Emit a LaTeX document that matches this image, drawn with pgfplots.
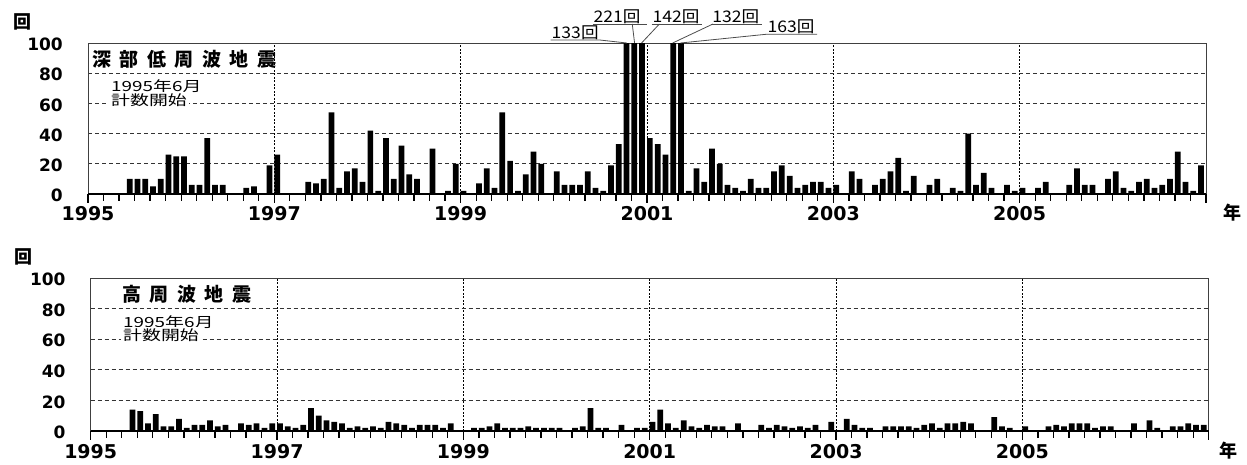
\documentclass[border=0pt]{standalone}
\usepackage{fontspec}
\usepackage{graphicx}
\usepackage{pgfplots}
\usepackage{pgfplotstable}
\pgfplotsset{compat=1.18}
\usetikzlibrary{calc}

\newfontfamily\deja{DejaVu Sans}
\newfontfamily\cjk{Noto Sans CJK JP}

% monthly counts, deep low-frequency earthquakes
\pgfplotstableread{
year mon n
1995 6 10
1995 7 10
1995 8 10
1995 9 5
1995 10 10
1995 11 26
1995 12 25
1996 1 25
1996 2 6
1996 3 6
1996 4 37
1996 5 6
1996 6 6
1996 7 0
1996 8 0
1996 9 4
1996 10 5
1996 11 0
1996 12 19
1997 1 26
1997 2 0
1997 3 0
1997 4 0
1997 5 8
1997 6 7
1997 7 10
1997 8 54
1997 9 4
1997 10 15
1997 11 17
1997 12 8
1998 1 42
1998 2 2
1998 3 37
1998 4 10
1998 5 32
1998 6 13
1998 7 10
1998 8 0
1998 9 30
1998 10 0
1998 11 2
1998 12 20
1999 1 2
1999 2 0
1999 3 7
1999 4 17
1999 5 4
1999 6 54
1999 7 22
1999 8 2
1999 9 13
1999 10 28
1999 11 20
1999 12 0
2000 1 15
2000 2 6
2000 3 6
2000 4 6
2000 5 15
2000 6 4
2000 7 2
2000 8 19
2000 9 33
2000 10 133
2000 11 221
2000 12 142
2001 1 37
2001 2 33
2001 3 26
2001 4 132
2001 5 163
2001 6 2
2001 7 17
2001 8 8
2001 9 30
2001 10 20
2001 11 6
2001 12 4
2002 1 2
2002 2 10
2002 3 4
2002 4 4
2002 5 15
2002 6 19
2002 7 12
2002 8 4
2002 9 6
2002 10 8
2002 11 8
2002 12 4
2003 1 6
2003 2 0
2003 3 15
2003 4 10
2003 5 0
2003 6 6
2003 7 10
2003 8 15
2003 9 24
2003 10 2
2003 11 12
2003 12 0
2004 1 6
2004 2 10
2004 3 0
2004 4 4
2004 5 2
2004 6 40
2004 7 6
2004 8 14
2004 9 4
2004 10 0
2004 11 6
2004 12 2
2005 1 4
2005 2 0
2005 3 4
2005 4 8
2005 5 0
2005 6 0
2005 7 6
2005 8 17
2005 9 6
2005 10 6
2005 11 0
2005 12 10
2006 1 15
2006 2 4
2006 3 2
2006 4 8
2006 5 10
2006 6 4
2006 7 6
2006 8 10
2006 9 28
2006 10 8
2006 11 2
2006 12 19
}\lowfreq

% monthly counts, high-frequency earthquakes
\pgfplotstableread{
year mon n
1995 6 14
1995 7 13
1995 8 5
1995 9 11
1995 10 3
1995 11 3
1995 12 8
1996 1 2
1996 2 4
1996 3 4
1996 4 7
1996 5 3
1996 6 4
1996 7 0
1996 8 5
1996 9 4
1996 10 5
1996 11 2
1996 12 5
1997 1 5
1997 2 3
1997 3 2
1997 4 4
1997 5 15
1997 6 10
1997 7 7
1997 8 6
1997 9 5
1997 10 2
1997 11 3
1997 12 2
1998 1 3
1998 2 2
1998 3 6
1998 4 5
1998 5 4
1998 6 2
1998 7 4
1998 8 4
1998 9 4
1998 10 2
1998 11 5
1998 12 0
1999 1 0
1999 2 2
1999 3 2
1999 4 3
1999 5 5
1999 6 2
1999 7 2
1999 8 2
1999 9 3
1999 10 2
1999 11 2
1999 12 2
2000 1 2
2000 2 0
2000 3 2
2000 4 3
2000 5 15
2000 6 2
2000 7 2
2000 8 0
2000 9 4
2000 10 0
2000 11 2
2000 12 2
2001 1 6
2001 2 14
2001 3 5
2001 4 2
2001 5 7
2001 6 3
2001 7 2
2001 8 4
2001 9 3
2001 10 3
2001 11 0
2001 12 5
2002 1 0
2002 2 0
2002 3 4
2002 4 2
2002 5 4
2002 6 3
2002 7 2
2002 8 3
2002 9 2
2002 10 4
2002 11 0
2002 12 6
2003 1 0
2003 2 8
2003 3 4
2003 4 2
2003 5 2
2003 6 0
2003 7 3
2003 8 3
2003 9 3
2003 10 3
2003 11 2
2003 12 4
2004 1 5
2004 2 2
2004 3 5
2004 4 5
2004 5 6
2004 6 5
2004 7 0
2004 8 0
2004 9 9
2004 10 3
2004 11 2
2004 12 0
2005 1 3
2005 2 0
2005 3 0
2005 4 3
2005 5 4
2005 6 3
2005 7 5
2005 8 5
2005 9 5
2005 10 2
2005 11 3
2005 12 3
2006 1 0
2006 2 0
2006 3 5
2006 4 0
2006 5 7
2006 6 2
2006 7 0
2006 8 3
2006 9 3
2006 10 5
2006 11 4
2006 12 4
}\highfreq

\pgfplotsset{
  quake/.style={
    scale only axis, width=1118pt,
    xmin=0, xmax=144, ymin=0, ymax=100,
    xtick={0,24,...,144}, ytick={0,20,...,100},
    xticklabels={}, yticklabels={},
    major tick length=0pt,
    xmajorgrids, ymajorgrids,
    x grid style={black, line width=0.9pt, dash pattern=on 2pt off 1.5pt},
    y grid style={black!80, line width=0.8pt, dash pattern=on 4pt off 3pt},
    axis line style={black!75, line width=0.8pt},
    clip mode=individual,
  },
  monthbars/.style={ybar, bar width=0.74, bar shift=0pt, fill=black, draw=none},
}

\newcommand\sep{\hspace{8.5pt}}
\newcommand\lab[1]{\scalebox{1.1}[1]{\cjk\fontsize{16}{16}\selectfont #1}}
\newcommand\note[1]{\scalebox{1.35}[1]{\cjk\fontsize{14}{14}\selectfont #1}}
\newcommand\tickfont{\deja\bfseries\fontsize{17}{17}\selectfont}
\newcommand\yearfont{\deja\bfseries\fontsize{19}{19}\selectfont}
\newcommand\unitfont{\cjk\bfseries\fontsize{18}{18}\selectfont}

% ticks and tick labels of one panel, from its corners (#1 origin, #2 right end, #3 top)
\newcommand\panelticks[4]{%
  \draw[black, line width=1.5pt] (#1) -- (#2);
  \foreach \i in {0,...,72} \draw[black, line width=1.3pt] ($(#1)!\i/72!(#2)$) -- ++(0pt,-6.5pt);
  \foreach \i in {0,...,6} \draw[black, line width=1.3pt] ($(#1)!\i/6!(#2)$) -- ++(0pt,-8.5pt);
  \foreach \yr [count=\i from 0] in {1995,1997,1999,2001,2003,2005}
    \node[anchor=north, inner sep=0pt, font=\yearfont, yshift=#4] at ($(#1)!\i/6!(#2)$) {\yr};
  \foreach \v [count=\i from 0] in {0,20,40,60,80,100}
    \node[anchor=east, inner sep=0pt, font=\tickfont, xshift=-25pt, yshift=-1.5pt] at ($(#1)!\i/5!(#3)$) {\v};
}

\begin{document}
\begin{tikzpicture}
\useasboundingbox (0pt,0pt) rectangle (1247pt,-464pt);

% upper panel
\begin{axis}[quake, height=151pt, at={(88pt,-194pt)}, anchor=south west]
\addplot[monthbars] table[x expr={(\thisrow{year}-1995)*12+\thisrow{mon}-1+0.37}, y=n]{\lowfreq};
\coordinate (U0) at (axis cs:0,0);
\coordinate (U1) at (axis cs:144,0);
\coordinate (U2) at (axis cs:0,100);
\draw[black!70, line width=0.8pt] (axis cs:59.6,102) -- (axis cs:65.9,102) -- (axis cs:69.4,100);
\draw[black!70, line width=0.8pt] (axis cs:65.0,112.6) -- (axis cs:72.0,112.6);
\draw[black!70, line width=0.8pt] (axis cs:70.1,112.6) -- (axis cs:70.4,100);
\draw[black!70, line width=0.8pt] (axis cs:72.6,112.6) -- (axis cs:79.1,112.6);
\draw[black!70, line width=0.8pt] (axis cs:73.6,112.6) -- (axis cs:71.3,100);
\draw[black!70, line width=0.8pt] (axis cs:80.3,112.6) -- (axis cs:86.8,112.6);
\draw[black!70, line width=0.8pt] (axis cs:80.5,112.6) -- (axis cs:75.3,100);
\draw[black!70, line width=0.8pt] (axis cs:76.3,100) -- (axis cs:87.4,105.8) -- (axis cs:93.9,105.8);
\node[anchor=base west, inner sep=0pt] at (axis cs:59.7,103) {\lab{133回}};
\node[anchor=base west, inner sep=0pt] at (axis cs:65.1,113.6) {\lab{221回}};
\node[anchor=base west, inner sep=0pt] at (axis cs:72.7,113.6) {\lab{142回}};
\node[anchor=base west, inner sep=0pt] at (axis cs:80.4,113.6) {\lab{132回}};
\node[anchor=base west, inner sep=0pt] at (axis cs:87.5,106.8) {\lab{163回}};
\end{axis}

% lower panel
\begin{axis}[quake, height=153pt, at={(90.7pt,-431pt)}, anchor=south west]
\addplot[monthbars] table[x expr={(\thisrow{year}-1995)*12+\thisrow{mon}-1+0.37}, y=n]{\highfreq};
\coordinate (L0) at (axis cs:0,0);
\coordinate (L1) at (axis cs:144,0);
\coordinate (L2) at (axis cs:0,100);
\end{axis}

\panelticks{U0}{U1}{U2}{-12pt}
\panelticks{L0}{L1}{L2}{-13pt}

% titles and notes
\node[anchor=west, inner sep=0pt, font=\cjk\bfseries\fontsize{19}{19}\selectfont]
  at (92pt,-59pt) {深\sep 部\sep 低\sep 周\sep 波\sep 地\sep 震};
\node[anchor=west, inner sep=0pt, font=\cjk\bfseries\fontsize{19}{19}\selectfont]
  at (122pt,-294.5pt) {高\sep 周\sep 波\sep 地\sep 震};
\node[anchor=base west, fill=white, inner sep=2pt] at (109pt,-91.5pt) {\note{1995年6月}};
\node[anchor=base west, fill=white, inner sep=2pt] at (109pt,-105.5pt) {\note{計数開始}};
\node[anchor=base west, fill=white, inner sep=2pt] at (121pt,-327pt) {\note{1995年6月}};
\node[anchor=base west, fill=white, inner sep=2pt] at (121pt,-340.5pt) {\note{計数開始}};

% unit labels
\node[font=\unitfont] at (22pt,-22pt) {回};
\node[font=\unitfont] at (23pt,-257pt) {回};
\node[font=\unitfont] at (1232pt,-213pt) {年};
\node[font=\unitfont] at (1228pt,-451pt) {年};
\end{tikzpicture}
\end{document}
